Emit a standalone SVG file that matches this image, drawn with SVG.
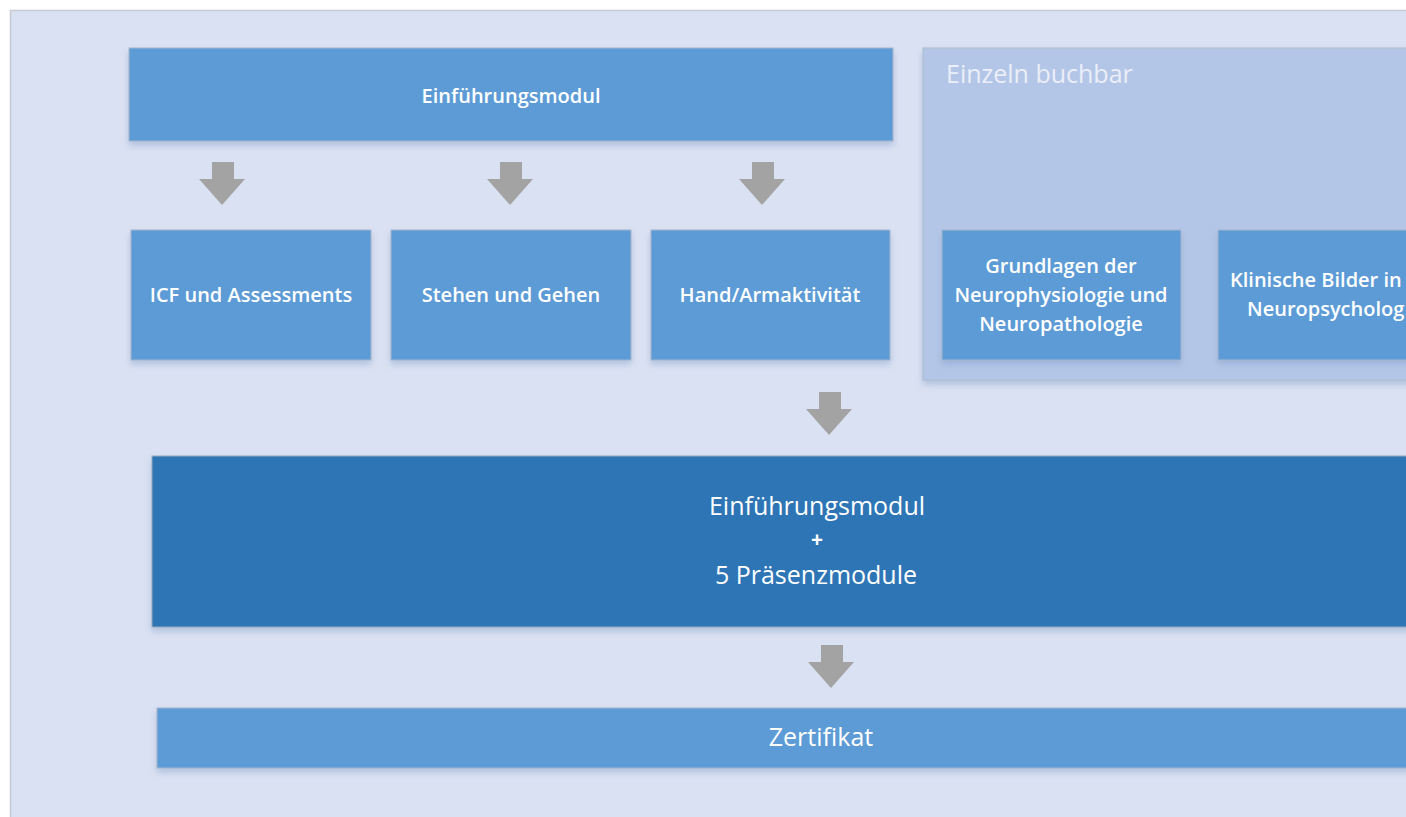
<svg xmlns="http://www.w3.org/2000/svg" width="1406" height="817" viewBox="0 0 1406 817">
<defs>
<filter id="sh" x="-10%" y="-20%" width="120%" height="160%">
<feDropShadow dx="0" dy="4" stdDeviation="3" flood-color="#7f9cc8" flood-opacity="0.45"/>
</filter>
<style>
.bg{fill:#DAE1F2;stroke:#c6cad3;stroke-width:1.5}
.lb{fill:#5B9BD5;stroke:#a7b6cc;stroke-width:1;filter:url(#sh)}
.db{fill:#2E75B6;stroke:#9aa9bf;stroke-width:1;filter:url(#sh)}
.pn{fill:#B4C6E7;stroke:#b0bccf;stroke-width:1;filter:url(#sh)}
.ar{fill:#A3A3A3}
.t{font-family:"Open Sans","Liberation Sans",sans-serif;fill:#ffffff;text-anchor:middle}
.s{font-size:20px;font-weight:600}
.l{font-size:25px;font-weight:400}
.p{font-family:"Open Sans","Liberation Sans",sans-serif;font-size:25px;fill:#EAEEF8}
</style>
</defs>
<rect x="0" y="0" width="1406" height="817" fill="#ffffff"/>
<rect class="bg" x="10.5" y="10.5" width="1410" height="820"/>

<g id="panel-einzeln">
<rect class="pn" x="923" y="48" width="500" height="332"/>
<text class="p" x="946" y="83">Einzeln buchbar</text>
</g>

<g id="einfuehrung">
<rect class="lb" x="129" y="48" width="764" height="93"/>
<text class="t s" x="511" y="103">Einführungsmodul</text>
</g>

<g id="icf">
<rect class="lb" x="131" y="230" width="240" height="130"/>
<text class="t s" x="251" y="302">ICF und Assessments</text>
</g>
<g id="stehen">
<rect class="lb" x="391" y="230" width="240" height="130"/>
<text class="t s" x="511" y="302">Stehen und Gehen</text>
</g>
<g id="hand">
<rect class="lb" x="651" y="230" width="239" height="130"/>
<text class="t s" x="770" y="302">Hand/Armaktivität</text>
</g>
<g id="grundlagen">
<rect class="lb" x="942" y="230" width="239" height="130"/>
<text class="t s" x="1061" y="273">Grundlagen der</text>
<text class="t s" x="1061" y="302">Neurophysiologie und</text>
<text class="t s" x="1061" y="331">Neuropathologie</text>
</g>
<g id="klinische">
<rect class="lb" x="1218" y="230" width="240" height="130"/>
<text class="t s" x="1230" y="287" style="text-anchor:start">Klinische Bilder in</text>
<text class="t s" x="1247" y="316" style="text-anchor:start">Neuropsycholog</text>
</g>

<g id="gesamt">
<rect class="db" x="152" y="456" width="1270" height="171"/>
<text class="t l" x="817" y="515">Einführungsmodul</text>
<text class="t l" x="817" y="547" style="font-size:21px;font-weight:700">+</text>
<text class="t l" x="816" y="584">5 Präsenzmodule</text>
</g>

<g id="zertifikat">
<rect class="lb" x="157" y="708" width="1265" height="60"/>
<text class="t l" x="821" y="746">Zertifikat</text>
</g>

<g id="connectors">
<path class="ar" d="M212 162h22v17h11l-23 26l-23-26h13z"/>
<path class="ar" d="M500 162h22v17h11l-23 26l-23-26h13z"/>
<path class="ar" d="M752 162h22v17h11l-23 26l-23-26h13z"/>
<path class="ar" d="M819 392h22v17h11l-23 26l-23-26h13z"/>
<path class="ar" d="M821 645h22v17h11l-23 26l-23-26h13z"/>
</g>
</svg>
